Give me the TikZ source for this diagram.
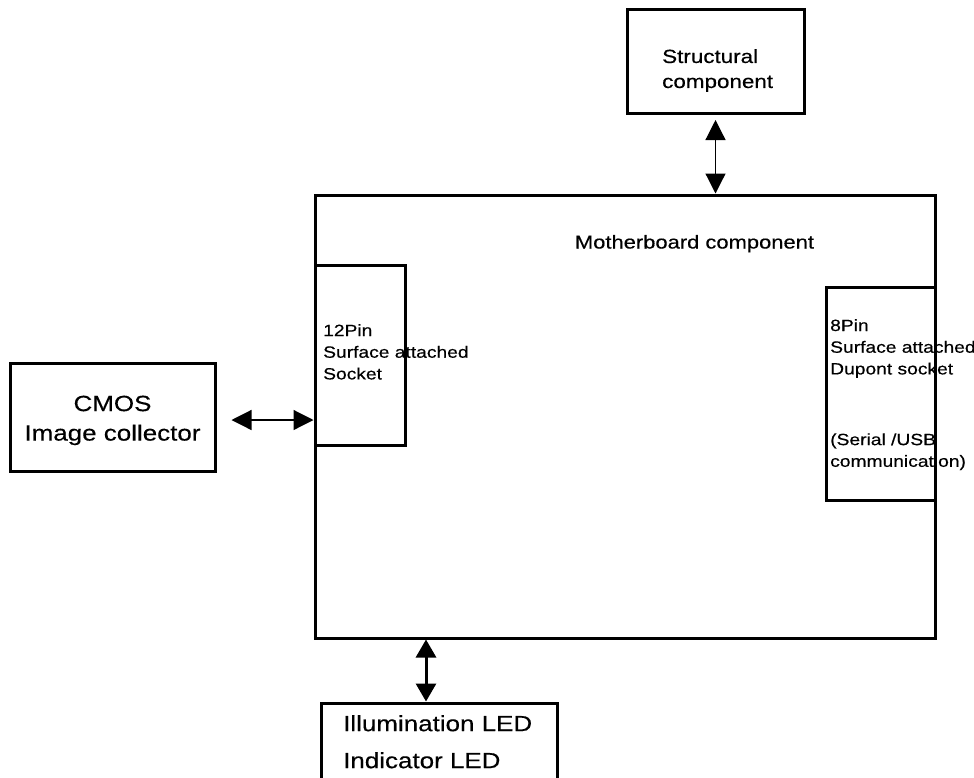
\documentclass[tikz,border=0pt]{standalone}
\usepackage{fontspec}
\setmainfont{Liberation Sans}[FakeStretch=1.18, FakeBold=0.4]
\usetikzlibrary{arrows.meta, positioning}

\begin{document}
\begin{tikzpicture}[
  x = 1pt,
  y = -1pt,
  box/.style = {
    rectangle,
    draw,
    line width = 3pt,
    inner sep = 0
  },
  boxtext/.style = {
    inner sep = 0,
    align = left,
    anchor = north west
  },
  link/.style = {
    arrows = {Triangle[length=20pt, width=20pt]-Triangle[length=20pt, width=20pt]},
    line width = 1.2pt
  },
  thicklink/.style = {
    arrows = {Triangle[length=18pt, width=20pt]-Triangle[length=18pt, width=20pt]},
    line width = 3pt
  }
]

\useasboundingbox (0,0) rectangle (974,777);
\clip (0,0) rectangle (974,777);

% Texts
\node[boxtext, font=\fontsize{16.3pt}{21.7pt}\selectfont] (pin12-text) at (323,324)
  {12Pin\\Surface attached\\Socket};
\node[boxtext, font=\fontsize{16.3pt}{21.7pt}\selectfont] (pin8-text) at (830,319)
  {8Pin\\Surface attached\\Dupont socket\\[49pt](Serial /USB\\communication)};
\node[inner sep=0, anchor=base, font=\fontsize{18.6pt}{22pt}\selectfont] (mb-text) at (694.5,248.5)
  {Motherboard component};
\node[boxtext, font=\fontsize{19pt}{25pt}\selectfont] (structural-text) at (662,49)
  {Structural\\component};
\node[boxtext, align=center, anchor=north, font=\fontsize{22pt}{29.5pt}\selectfont] (cmos-text) at (112.5,395.5)
  {CMOS\\Image collector};
\node[boxtext, font=\fontsize{22pt}{37pt}\selectfont] (led-text) at (343,715)
  {Illumination LED\\Indicator LED};

% Nodes
\node[box, minimum width=620pt, minimum height=443pt] (motherboard) at (625,416.5) {};
\node[box, minimum width=177pt, minimum height=104pt] (structural) at (715.5,61) {};
\node[box, minimum width=90pt, minimum height=180pt] (pin12) at (360,355) {};
\node[box, minimum width=109pt, minimum height=213pt] (pin8) at (880.5,393.5) {};
\node[box, minimum width=205pt, minimum height=108pt] (cmos) at (112.5,417) {};
\node[box, minimum width=236pt, minimum height=107pt] (led) at (439,756.5) {};

% Arrows
\draw[link] ([yshift=-5.5pt]structural.south) -- (structural.south |- motherboard.north);
\draw[link] ([shift={(15pt,-3pt)}]cmos.east) -- ([yshift=-3pt]cmos.east -| pin12.west);
\draw[thicklink] ([xshift=-13pt]led.north |- motherboard.south) -- ([xshift=-13pt]led.north);

\end{tikzpicture}
\end{document}
